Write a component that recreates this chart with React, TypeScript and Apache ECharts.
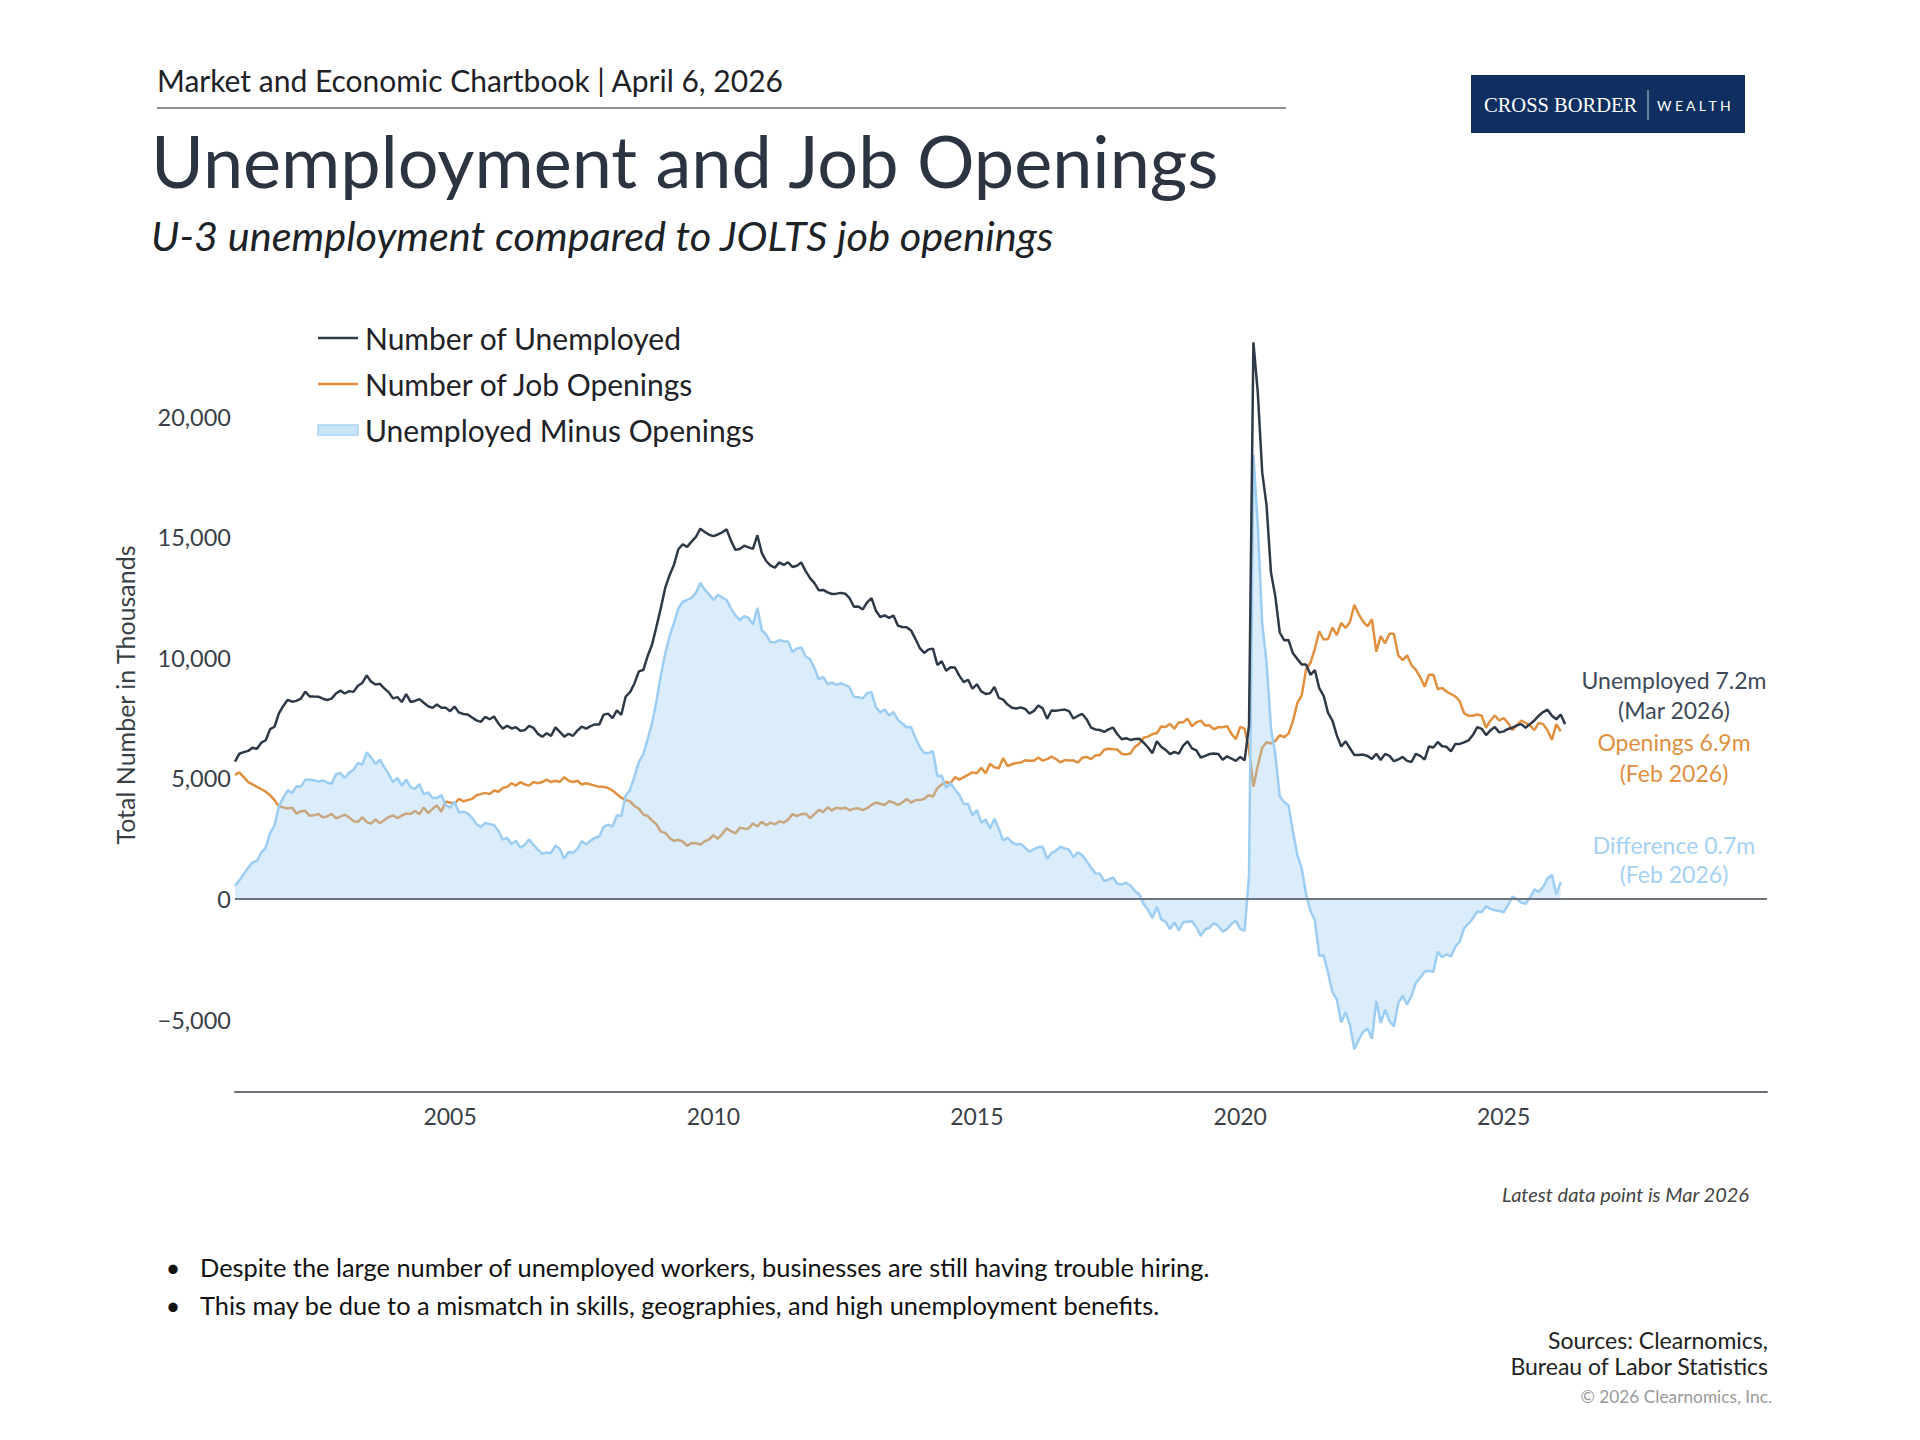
import React, { useEffect, useRef } from "react";
import * as echarts from "echarts";

// Monthly series, starting December 2000 (thousands)
const START_YEAR = 2000;
const START_MONTH = 12;

const unemployed: number[] = [
  5700,
  6023, 6089, 6141, 6271, 6226, 6484, 6583, 7042, 7142, 7694, 8003, 8258,
  8182, 8215, 8304, 8599, 8399, 8393, 8390, 8304, 8251, 8307, 8520, 8640,
  8520, 8618, 8588, 8842, 8957, 9266, 9011, 8896, 8921, 8732, 8576, 8317,
  8370, 8167, 8491, 8170, 8212, 8286, 8136, 7990, 7927, 8061, 7932, 7934,
  7784, 7980, 7737, 7672, 7651, 7524, 7406, 7345, 7553, 7453, 7566, 7279,
  7064, 7184, 7072, 7120, 6980, 7001, 7175, 7091, 6847, 6727, 6872, 6762,
  7116, 6927, 6731, 6850, 6766, 6979, 7149, 7067, 7170, 7237, 7240, 7645,
  7685, 7497, 7822, 7637, 8395, 8575, 8937, 9438, 9494, 10074, 10538, 11286,
  12058, 12898, 13426, 13853, 14499, 14707, 14601, 14814, 15009, 15352, 15219, 15098,
  15046, 15113, 15202, 15325, 14849, 14474, 14512, 14648, 14579, 14516, 15081, 14348,
  14013, 13820, 13737, 13957, 13855, 13962, 13763, 13818, 13948, 13594, 13302, 13093,
  12797, 12813, 12713, 12646, 12660, 12692, 12656, 12471, 12115, 12124, 12005, 12298,
  12471, 11950, 11689, 11760, 11654, 11751, 11335, 11279, 11270, 11136, 10787, 10404,
  10202, 10349, 10380, 9702, 9859, 9460, 9608, 9599, 9262, 8990, 9090, 8717,
  8903, 8610, 8504, 8526, 8794, 8338, 8266, 8062, 7929, 7898, 7945, 7879,
  7690, 7801, 8024, 7903, 7468, 7815, 7803, 7831, 7853, 7789, 7483, 7588,
  7673, 7455, 7109, 7029, 7011, 6928, 7033, 7109, 6829, 6622, 6667, 6596,
  6636, 6643, 6481, 6281, 6048, 6545, 6310, 6184, 6011, 6095, 6026, 6356,
  6535, 6242, 6164, 5867, 5934, 6010, 6034, 6013, 5771, 5915, 5825, 5728,
  5892, 5749, 7185, 23078, 20993, 17697, 16308, 13542, 12535, 11049, 10728, 10736,
  10185, 9955, 9718, 9725, 9294, 9491, 8739, 8426, 7719, 7397, 6784, 6325,
  6536, 6251, 5968, 5966, 5988, 5931, 5809, 6022, 5761, 6017, 5935, 5714,
  5785, 5890, 5728, 5680, 6020, 5935, 5783, 6326, 6281, 6510, 6334, 6311,
  6117, 6430, 6429, 6492, 6576, 6797, 7128, 7056, 6798, 6993, 7132, 6908,
  6950, 7050, 7100, 7200, 7250, 7100, 7250, 7400, 7600, 7750, 7850, 7600,
  7450, 7650, 7250,
];

const openings: number[] = [
  5150,
  5250, 5050, 4850, 4750, 4650, 4550, 4450, 4300, 4100, 3850, 3800, 3750,
  3790, 3544, 3640, 3657, 3452, 3468, 3524, 3387, 3420, 3530, 3345, 3417,
  3495, 3383, 3230, 3196, 3387, 3190, 3125, 3300, 3138, 3264, 3398, 3470,
  3349, 3463, 3546, 3528, 3646, 3519, 3797, 3564, 3740, 3878, 3621, 4033,
  4000, 3950, 4150, 4050, 4100, 4150, 4300, 4350, 4400, 4350, 4500, 4450,
  4600, 4650, 4800, 4700, 4850, 4750, 4700, 4850, 4800, 4850, 4950, 4850,
  4900, 4850, 5050, 4900, 4850, 4900, 4750, 4800, 4750, 4700, 4650, 4650,
  4600, 4500, 4350, 4200, 4100, 4050, 3850, 3750, 3500, 3450, 3250, 3100,
  2794, 2744, 2532, 2404, 2455, 2384, 2205, 2324, 2317, 2254, 2390, 2468,
  2646, 2500, 2702, 2929, 2811, 2719, 2954, 2918, 2928, 3133, 3010, 3202,
  3056, 3169, 3093, 3220, 3165, 3282, 3521, 3436, 3516, 3538, 3359, 3515,
  3697, 3607, 3804, 3672, 3781, 3745, 3786, 3679, 3745, 3761, 3688, 3767,
  3900, 4000, 3950, 3900, 4050, 4000, 3900, 4000, 4150, 4000, 4100, 4100,
  4150, 4300, 4250, 4600, 4750, 4850, 4800, 5050, 4950, 5050, 5150, 5250,
  5214, 5437, 5213, 5602, 5463, 5425, 5843, 5510, 5586, 5638, 5659, 5753,
  5731, 5737, 5868, 5735, 5801, 5904, 5803, 5665, 5759, 5738, 5746, 5651,
  5857, 5890, 5798, 5957, 5960, 6187, 6232, 6212, 6195, 6022, 5990, 6036,
  6307, 6439, 6686, 6734, 6837, 6871, 7155, 7130, 7262, 7060, 7330, 7322,
  7480, 7162, 7326, 7393, 7197, 7201, 7038, 7125, 7125, 7165, 6849, 6629,
  7136, 7063, 6205, 4650, 5520, 6277, 6500, 6450, 6556, 6789, 6708, 6856,
  7372, 8122, 8439, 9520, 9793, 10373, 11097, 10758, 10775, 11249, 10941, 11448,
  11234, 11483, 12200, 11800, 11500, 11300, 11600, 10250, 10900, 10600, 11000, 11000,
  10100, 9900, 10100, 9700, 9500, 9200, 8800, 9300, 9300, 8700, 8750, 8600,
  8500, 8400, 8200, 7700, 7600, 7600, 7650, 7600, 7100, 7400, 7600, 7400,
  7500, 7300, 7000, 7200, 7400, 7300, 7200, 7000, 7300, 7250, 7000, 6600,
  7250, 6950,
];

const xTickLabels = [2005, 2010, 2015, 2020, 2025];
const yTickLabels = [-5000, 0, 5000, 10000, 15000, 20000];

const legendLabels = ["Number of Unemployed", "Number of Job Openings", "Unemployed Minus Openings"];
const endNotes = [
  { lines: ["Unemployed 7.2m", "(Mar 2026)"], color: "#3e4a59" },
  { lines: ["Openings 6.9m", "(Feb 2026)"], color: "#e0903f" },
  { lines: ["Difference 0.7m", "(Feb 2026)"], color: "#a6d2f3" },
];
const bullets = [
  "Despite the large number of unemployed workers, businesses are still having trouble hiring.",
  "This may be due to a mismatch in skills, geographies, and high unemployment benefits.",
];

const FONT = "Lato, 'Noto Sans', sans-serif";
const C_UNEMP = "#2f3a48";
const C_OPEN = "#e0903f";
const C_DIFF_LINE = "#9ccdf2";
const C_DIFF_FILL = "rgba(155,205,241,0.52)";

function monthX(i: number): number {
  return START_YEAR + (START_MONTH - 1 + i) / 12;
}

function fmt(v: number): string {
  const s = Math.abs(v).toLocaleString("en-US");
  return v < 0 ? "\u2212" + s : s;
}

export default function App() {
  const ref = useRef<HTMLDivElement>(null);

  useEffect(() => {
    if (!ref.current) return;
    const chart = echarts.init(ref.current, undefined, { renderer: "svg" });

    const uData = unemployed.map((v, i) => [monthX(i), v]);
    const oData = openings.map((v, i) => [monthX(i), v]);
    const dData = openings.map((o, i) => [monthX(i), unemployed[i] - o]);

    const txt = (x: number, y: number, text: string, o: any = {}) => ({
      type: "text",
      x,
      y,
      silent: true,
      rotation: o.rotation || 0,
      style: {
        text,
        fill: o.fill || "#222",
        fontSize: o.fontSize || 22,
        fontFamily: o.fontFamily || FONT,
        fontStyle: o.fontStyle || "normal",
        fontWeight: o.fontWeight || "normal",
        align: o.align || "left",
        verticalAlign: o.verticalAlign || "middle",
      },
    });

    const graphics: any[] = [];
    // Header
    graphics.push(txt(157, 80, "Market and Economic Chartbook | April 6, 2026", { fontSize: 30, fill: "#1e2226" }));
    graphics.push({ type: "line", silent: true, shape: { x1: 157, y1: 108, x2: 1286, y2: 108 }, style: { stroke: "#6a6f75", lineWidth: 1.5 } });
    // Logo
    graphics.push({ type: "rect", silent: true, shape: { x: 1471, y: 75, width: 274, height: 58 }, style: { fill: "#0e2f5f" } });
    graphics.push(txt(1484, 105, "CROSS BORDER", { fontSize: 20.5, fill: "#ffffff", fontFamily: "'Liberation Serif', 'DejaVu Serif', serif" }));
    graphics.push({ type: "line", silent: true, shape: { x1: 1648, y1: 90, x2: 1648, y2: 120 }, style: { stroke: "#c9d2e0", lineWidth: 1 } });
    graphics.push(txt(1657, 105, "W E A L T H", { fontSize: 14, fill: "#ffffff" }));
    // Title & subtitle
    graphics.push(txt(151, 160, "Unemployment and Job Openings", { fontSize: 72, fill: "#2b3440" }));
    graphics.push(txt(151, 235, "U-3 unemployment compared to JOLTS job openings", { fontSize: 41.5, fill: "#1d2227", fontStyle: "italic" }));
    // Legend
    const legY = [338, 384, 430];
    graphics.push({ type: "line", silent: true, shape: { x1: 318, y1: legY[0], x2: 358, y2: legY[0] }, style: { stroke: C_UNEMP, lineWidth: 2.5 } });
    graphics.push({ type: "line", silent: true, shape: { x1: 318, y1: legY[1], x2: 358, y2: legY[1] }, style: { stroke: C_OPEN, lineWidth: 2.5 } });
    graphics.push({ type: "rect", silent: true, shape: { x: 318, y: legY[2] - 5, width: 40, height: 10 }, style: { fill: C_DIFF_FILL, stroke: "#a8d4f4", lineWidth: 1.5 } });
    legendLabels.forEach((l, i) => graphics.push(txt(365, legY[i], l, { fontSize: 30, fill: "#1f2328" })));
    // Y axis title
    graphics.push(txt(125, 695, "Total Number in Thousands", { fontSize: 25, fill: "#3a3f46", align: "center", rotation: Math.PI / 2 }));
    // End notes
    const noteY = [[680, 710], [742, 773], [845, 874]];
    endNotes.forEach((n, i) => n.lines.forEach((l, j) => graphics.push(txt(1674, noteY[i][j], l, { fontSize: 23, fill: n.color, align: "center" }))));
    // Footer
    graphics.push(txt(1749, 1194, "Latest data point is Mar 2026", { fontSize: 20, fill: "#444", fontStyle: "italic", align: "right" }));
    bullets.forEach((b, i) => {
      const y = [1267, 1305][i];
      graphics.push(txt(173, y, "\u2022", { fontSize: 25, fill: "#111", align: "center" }));
      graphics.push(txt(200, y, b, { fontSize: 25.4, fill: "#111" }));
    });
    graphics.push(txt(1768, 1340, "Sources: Clearnomics,", { fontSize: 23, fill: "#222", align: "right" }));
    graphics.push(txt(1768, 1366, "Bureau of Labor Statistics", { fontSize: 23, fill: "#222", align: "right" }));
    graphics.push(txt(1772, 1396, "\u00a9 2026 Clearnomics, Inc.", { fontSize: 17.3, fill: "#9a9a9a", align: "right" }));

    chart.setOption({
      animation: false,
      backgroundColor: "#ffffff",
      textStyle: { fontFamily: FONT },
      grid: { left: 235, right: 153, top: 302, bottom: 348, containLabel: false },
      xAxis: {
        type: "value",
        min: START_YEAR + (START_MONTH - 1) / 12,
        max: 2030,
        axisLine: { show: true, onZero: false, lineStyle: { color: "#6b7079", width: 2 } },
        axisTick: { show: false },
        splitLine: { show: false },
        axisLabel: {
          customValues: xTickLabels,
          formatter: (v: number) => String(Math.round(v)),
          fontSize: 23,
          color: "#3a3f47",
          margin: 12,
          fontFamily: FONT,
        },
      },
      yAxis: {
        type: "value",
        min: -8000,
        max: 24750,
        axisLine: { show: false },
        axisTick: { show: false },
        splitLine: { show: false },
        axisLabel: {
          customValues: yTickLabels,
          formatter: (v: number) => fmt(v),
          fontSize: 23.5,
          color: "#3a3f47",
          margin: 4,
          fontFamily: FONT,
        },
      },
      series: [
        {
          name: "Number of Job Openings",
          type: "line",
          data: oData,
          showSymbol: false,
          symbol: "none",
          lineStyle: { color: C_OPEN, width: 2.5 },
          z: 2,
        },
        {
          name: "Unemployed Minus Openings",
          type: "line",
          data: dData,
          showSymbol: false,
          symbol: "none",
          lineStyle: { color: C_DIFF_LINE, width: 2.5 },
          areaStyle: { color: C_DIFF_FILL, origin: 0 },
          z: 3,
        },
        {
          name: "Number of Unemployed",
          type: "line",
          data: uData,
          showSymbol: false,
          symbol: "none",
          lineStyle: { color: C_UNEMP, width: 2.5 },
          z: 4,
          markLine: {
            silent: true,
            symbol: "none",
            label: { show: false },
            lineStyle: { color: "#6e747c", width: 2, type: "solid" },
            data: [{ yAxis: 0 }],
          },
        },
      ],
      graphic: graphics,
    });

    return () => chart.dispose();
  }, []);

  return (
    <div
      ref={ref}
      style={{ position: "fixed", left: 0, top: 0, width: 1920, height: 1440, background: "#fff" }}
    />
  );
}
